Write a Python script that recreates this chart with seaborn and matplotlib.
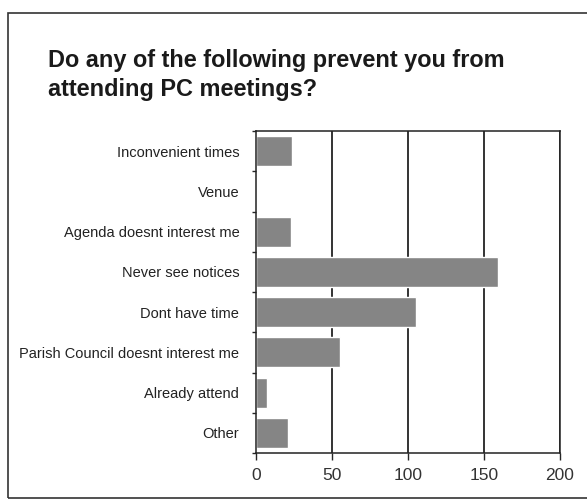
import seaborn as sb
import matplotlib.pyplot as plt
import matplotlib.patches as mpatches
import numpy as np
import pandas as pd

# survey answers
reasons = ['Inconvenient times', 'Venue', 'Agenda doesnt interest me',
           'Never see notices', 'Dont have time',
           'Parish Council doesnt interest me', 'Already attend', 'Other']
counts = [24, 0, 23, 159, 105, 55, 7, 21]
xticks = [0, 50, 100, 150, 200]

df = pd.DataFrame({'reason': reasons, 'count': counts})

sb.set_style('white')
plt.rcParams['font.family'] = ['Liberation Sans', 'DejaVu Sans']

fig = plt.figure(figsize=(5.87, 5.0), dpi=100)
ax = fig.add_axes([0.436, 0.094, 0.518, 0.644])

sb.barplot(data=df, y='reason', x='count', color='#858585', width=0.75,
           saturation=1, ax=ax, zorder=1)

ax.set_xlim(0, 200)
ax.set_xticks(xticks)
ax.set_xticklabels([str(t) for t in xticks], fontsize=12.5, color='#333333')
ax.set_ylim(len(reasons) - 0.5, -0.5)
ax.set_xlabel('')
ax.set_ylabel('')
ax.tick_params(axis='y', length=0, labelsize=10.5, pad=12)
ax.tick_params(axis='x', length=5, width=1, direction='out', pad=6, bottom=True)
for lbl in ax.get_yticklabels():
    lbl.set_color('#222222')

# small ticks between categories on the left axis
ax.set_yticks(np.arange(-0.5, len(reasons), 1), minor=True)
ax.tick_params(axis='y', which='minor', length=3, width=1, left=True)

# vertical gridlines
for t in xticks[1:]:
    ax.axvline(t, color='#111111', lw=1.2, zorder=0)

for side in ['top', 'right', 'left', 'bottom']:
    ax.spines[side].set_visible(True)
    ax.spines[side].set_color('#222222')
    ax.spines[side].set_linewidth(1.1)

fig.text(48 / 587, 1 - 75 / 500, 'Do any of the following prevent you from\nattending PC meetings?',
         fontsize=16.9, fontweight='bold', va='center', ha='left',
         linespacing=1.35, color='#1a1a1a')

# outer frame of the scanned chart
fig.patches.append(mpatches.Rectangle((8 / 587, 2 / 500), 1.2, 1 - 15 / 500,
                                      transform=fig.transFigure, fill=False,
                                      edgecolor='#333333', lw=1.2))

plt.savefig('out.png', dpi=100)
